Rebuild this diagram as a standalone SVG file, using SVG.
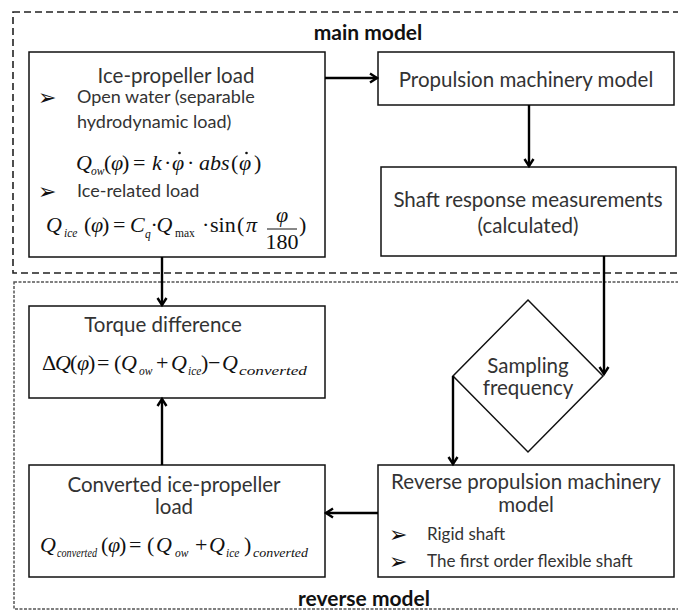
<svg xmlns="http://www.w3.org/2000/svg" width="678" height="616" viewBox="0 0 678 616">
<defs>
<marker id="ah" markerWidth="12" markerHeight="12" refX="9" refY="6" orient="auto" markerUnits="userSpaceOnUse">
<path d="M2,1.5 L9,6 L2,10.5" fill="none" stroke="#000" stroke-width="2.4" stroke-linejoin="miter"/>
</marker>
</defs>
<style>
.box{fill:#fff;stroke:#111;stroke-width:1.5}
.t{font-family:Lato,"Open Sans","Liberation Sans",sans-serif;font-size:20.5px;fill:#333}
.bt{font-family:Lato,"Open Sans","Liberation Sans",sans-serif;font-size:18px;fill:#333}
.st{font-family:Lato,"Open Sans","Liberation Sans",sans-serif;font-size:17px;fill:#333}
.c{text-anchor:middle}
.b{font-weight:bold;fill:#111;font-size:21px}
.bl{font-family:"DejaVu Sans",sans-serif;font-size:22px;fill:#111}
.m{font-family:"Liberation Serif","Times New Roman",serif;font-size:22px;fill:#111}
.i{font-style:italic}
.s{font-size:11.5px;font-style:italic}
.u{font-size:11.5px}
.cn{stroke:#000;stroke-width:2.4;fill:none}
.dot{fill:#111}
</style>
<rect width="678" height="616" fill="#fff"/>
<g id="main-model">
<rect x="13" y="12" width="680" height="261" fill="none" stroke="#222" stroke-width="1.6" stroke-dasharray="7,4"/>
<text class="t b c" x="368" y="40">main model</text>
</g>
<g id="reverse-model">
<rect x="14" y="282" width="680" height="327" fill="none" stroke="#555" stroke-width="1.5" stroke-dasharray="3,1.5"/>
<text class="t b c" x="364" y="606">reverse model</text>
</g>
<g id="ice-propeller-load">
<rect class="box" x="29" y="52" width="296" height="205"/>
<text class="t c" x="176" y="83">Ice-propeller load</text>
<text class="bl" x="38" y="105">➢</text>
<text class="bt" x="77" y="103">Open water (separable</text>
<text class="bt" x="77" y="128">hydrodynamic load)</text>
<text class="m"><tspan class="i" x="76" y="170">Q</tspan><tspan class="s" x="91" y="175">ow</tspan><tspan x="104" y="170">(</tspan><tspan class="i" x="111">φ</tspan><tspan x="122">)</tspan><tspan x="133">=</tspan><tspan class="i" x="152">k</tspan><tspan x="164">·</tspan><tspan class="i" x="172">φ</tspan><tspan x="187">·</tspan><tspan class="i" x="199">abs</tspan><tspan x="231">(</tspan><tspan class="i" x="239">φ</tspan><tspan x="254">)</tspan></text>
<circle class="dot" cx="179.5" cy="153" r="1.3"/>
<circle class="dot" cx="246.5" cy="153" r="1.3"/>
<text class="bl" x="38" y="199">➢</text>
<text class="bt" x="77" y="197">Ice-related load</text>
<text class="m"><tspan class="i" x="46" y="232">Q</tspan><tspan class="s" x="64" y="237">ice</tspan><tspan x="84" y="232">(</tspan><tspan class="i" x="91">φ</tspan><tspan x="102">)</tspan><tspan x="113">=</tspan><tspan class="i" x="130">C</tspan><tspan class="s" x="145" y="238">q</tspan><tspan x="150.5" y="232">·</tspan><tspan class="i" x="156.5">Q</tspan><tspan class="u" x="175" y="237">max</tspan><tspan x="202" y="232">·</tspan><tspan x="210">sin</tspan><tspan x="237">(</tspan><tspan class="i" x="246">π</tspan><tspan x="299">)</tspan></text>
<text class="m i c" x="282" y="222">φ</text>
<line x1="267" y1="229" x2="297" y2="229" stroke="#111" stroke-width="1"/>
<text class="m c" x="282" y="249">180</text>
</g>
<g id="propulsion-machinery-model">
<rect class="box" x="378" y="52" width="296" height="53"/>
<text class="t c" x="526" y="87">Propulsion machinery model</text>
</g>
<g id="shaft-response">
<rect class="box" x="381" y="167" width="295" height="89"/>
<text class="t c" x="528" y="207">Shaft response measurements</text>
<text class="t c" x="528" y="233">(calculated)</text>
</g>
<g id="sampling-frequency">
<polygon class="box" points="528,300 603,376 528,452 453,376"/>
<text class="t c" x="528" y="373">Sampling</text>
<text class="t c" x="528" y="395">frequency</text>
</g>
<g id="reverse-propulsion-machinery-model">
<rect class="box" x="378" y="465" width="296" height="112"/>
<text class="t c" x="526" y="489">Reverse propulsion machinery</text>
<text class="t c" x="526" y="512">model</text>
<text class="bl" x="389" y="542">➢</text>
<text class="st" x="427" y="540">Rigid shaft</text>
<text class="bl" x="389" y="569">➢</text>
<text class="st" x="427" y="567">The first order flexible shaft</text>
</g>
<g id="torque-difference">
<rect class="box" x="29" y="306" width="296" height="92"/>
<text class="t c" x="163" y="332">Torque difference</text>
<text class="m"><tspan x="42" y="370">Δ</tspan><tspan class="i" x="55">Q</tspan><tspan x="70">(</tspan><tspan class="i" x="77">φ</tspan><tspan x="88">)</tspan><tspan x="97">=</tspan><tspan x="114">(</tspan><tspan class="i" x="121">Q</tspan><tspan class="s" x="139" y="375">ow</tspan><tspan x="156" y="370">+</tspan><tspan class="i" x="171">Q</tspan><tspan class="s" x="188" y="375">ice</tspan><tspan x="201" y="370">)</tspan><tspan x="208">−</tspan><tspan class="i" x="222">Q</tspan><tspan class="s" x="239" y="375" textLength="68" lengthAdjust="spacingAndGlyphs">converted</tspan></text>
</g>
<g id="converted-ice-propeller-load">
<rect class="box" x="29" y="465" width="296" height="112"/>
<text class="t c" x="174" y="492">Converted ice-propeller</text>
<text class="t c" x="174" y="514">load</text>
<text class="m"><tspan class="i" x="40" y="552">Q</tspan><tspan class="s" x="57" y="557" textLength="40" lengthAdjust="spacingAndGlyphs">converted</tspan><tspan x="101" y="552">(</tspan><tspan class="i" x="108">φ</tspan><tspan x="119">)</tspan><tspan x="129">=</tspan><tspan x="147">(</tspan><tspan class="i" x="156">Q</tspan><tspan class="s" x="175" y="557">ow</tspan><tspan x="195" y="552">+</tspan><tspan class="i" x="209">Q</tspan><tspan class="s" x="226" y="557">ice</tspan><tspan x="244" y="552">)</tspan><tspan class="s" x="253" y="557" textLength="55" lengthAdjust="spacingAndGlyphs">converted</tspan></text>
</g>
<g id="connectors">
<line class="cn" x1="325" y1="78" x2="377" y2="78" marker-end="url(#ah)"/>
<line class="cn" x1="529" y1="105" x2="529" y2="166" marker-end="url(#ah)"/>
<line class="cn" x1="604" y1="256" x2="604" y2="374" marker-end="url(#ah)"/>
<line class="cn" x1="453" y1="376" x2="453" y2="464" marker-end="url(#ah)"/>
<line class="cn" x1="378" y1="513" x2="326" y2="513" stroke-width="1.6" marker-end="url(#ah)"/>
<line class="cn" x1="162" y1="465" x2="162" y2="399" marker-end="url(#ah)"/>
<line class="cn" x1="162" y1="257" x2="162" y2="305" marker-end="url(#ah)"/>
</g>
</svg>
